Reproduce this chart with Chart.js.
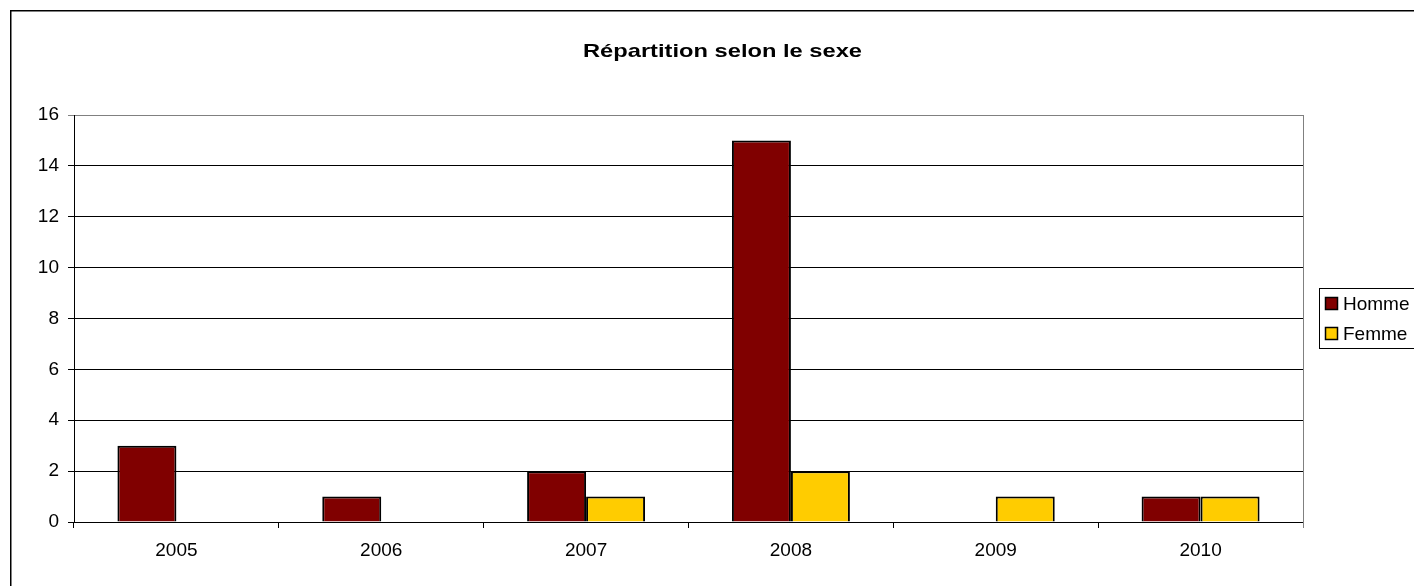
<!DOCTYPE html>
<html>
<head>
<meta charset="utf-8">
<script src="https://cdn.jsdelivr.net/npm/chart.js@4"></script>
<style>
html,body{margin:0;padding:0;background:#fff;}
#wrap{width:1414px;height:586px;position:relative;}
</style>
</head>
<body>
<div id="wrap"><canvas id="c" width="1414" height="586"></canvas></div>
<script>
const titleText = "Répartition selon le sexe";
const categories = ["2005","2006","2007","2008","2009","2010"];
const seriesNames = ["Homme","Femme"];
const homme = [3,1,2,15,0,1];
const femme = [0,0,1,2,1,1];
const yTicks = [0,2,4,6,8,10,12,14,16];
const colors = ["#800000","#FFCC00"];

const FONT = "'Liberation Sans', Arial, sans-serif";

const decor = {
  id: 'decor',
  afterDraw(chart) {
    const ctx = chart.ctx;
    const a = chart.chartArea;
    ctx.save();
    // outer frame
    ctx.strokeStyle = '#000';
    ctx.lineWidth = 1.5;
    ctx.strokeRect(10.75, 10.75, 1440, 600);
    // right plot border
    ctx.strokeStyle = '#808080';
    ctx.lineWidth = 1;
    ctx.beginPath();
    ctx.moveTo(Math.round(a.right) + 0.5, a.top);
    ctx.lineTo(Math.round(a.right) + 0.5, a.bottom + 6);
    ctx.stroke();
    // title (stretched horizontally like the reference)
    ctx.fillStyle = '#000';
    ctx.font = "bold 19px " + FONT;
    ctx.textAlign = 'center';
    ctx.textBaseline = 'middle';
    const w = ctx.measureText(titleText).width;
    const sx = 279 / w;
    ctx.save();
    ctx.translate(722.5, 52);
    ctx.scale(sx, 1);
    ctx.fillText(titleText, 0, 0);
    ctx.restore();
    // legend
    const lx = 1319.5, ly = 288.5;
    ctx.strokeStyle = '#000';
    ctx.lineWidth = 1;
    ctx.strokeRect(lx, ly, 120, 60);
    ctx.font = "19px " + FONT;
    ctx.textAlign = 'left';
    chart.data.datasets.forEach((ds, i) => {
      const cy = 304 + i * 30;
      ctx.fillStyle = ds.backgroundColor;
      ctx.fillRect(1325, cy - 7, 13, 13);
      ctx.strokeStyle = '#000';
      ctx.lineWidth = 1.5;
      ctx.strokeRect(1325.5, cy - 6.5, 12, 12);
      ctx.fillStyle = '#000';
      ctx.fillText(ds.label, 1343, cy + 1);
    });
    ctx.restore();
  }
};

new Chart(document.getElementById('c'), {
  type: 'bar',
  data: {
    labels: categories,
    datasets: [
      { label: seriesNames[0], data: homme, backgroundColor: colors[0], borderColor: '#000', borderWidth: 2 },
      { label: seriesNames[1], data: femme, backgroundColor: colors[1], borderColor: '#000', borderWidth: 2 }
    ]
  },
  options: {
    responsive: false,
    animation: false,
    devicePixelRatio: 1,
    layout: { padding: { left: 0, right: 111, top: 115, bottom: 0 } },
    plugins: { legend: { display: false }, title: { display: false }, tooltip: { enabled: false } },
    datasets: { bar: { categoryPercentage: 0.576, barPercentage: 1.0 } },
    scales: {
      x: {
        afterFit(s) { s.height = 64; },
        grid: { display: true, drawOnChartArea: false, color: '#000', tickLength: 6, offset: true },
        border: { display: true, color: '#000', width: 1 },
        ticks: { color: '#000', font: { size: 19, family: FONT }, padding: 11, maxRotation: 0 }
      },
      y: {
        min: 0, max: 16,
        afterFit(s) { s.width = 74; },
        afterBuildTicks(s) { s.ticks = yTicks.map(v => ({ value: v })); },
        grid: {
          color: (c) => (c.tick && c.tick.value === 16) ? '#808080' : '#000',
          tickLength: 6, lineWidth: 1
        },
        border: { display: true, color: '#000', width: 1 },
        ticks: { color: '#000', font: { size: 19, family: FONT }, padding: 9 }
      }
    }
  },
  plugins: [decor]
});
</script>
</body>
</html>
